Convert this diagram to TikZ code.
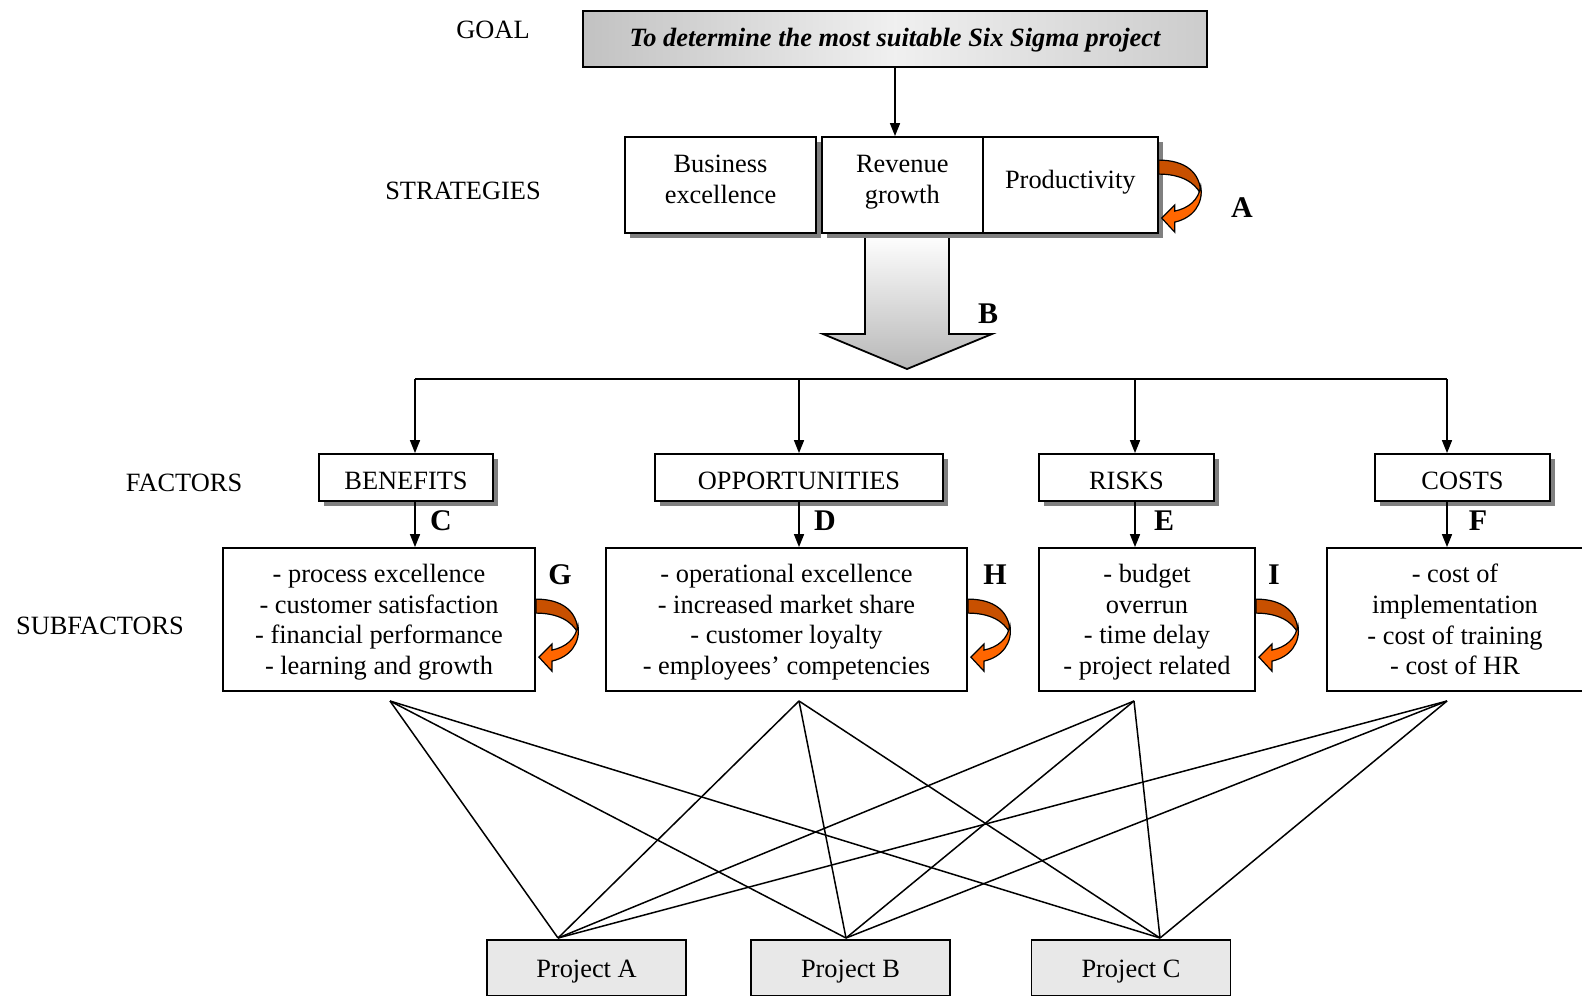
\documentclass[tikz,border=0pt]{standalone}
\usepackage{fontspec}
\setmainfont{Liberation Serif}
\usetikzlibrary{arrows.meta,positioning,shadows,calc}

\definecolor{curldark}{RGB}{200,80,0}
\definecolor{curlbright}{RGB}{255,102,0}

% orange twisted arrow, #1 = top end at the box edge
\newcommand{\curl}[1]{%
  \begin{scope}[shift={#1},line width=0.6pt]
    \filldraw[fill=curldark] (0,0) .. controls (26,0) and (42,12) .. (42,34)
      .. controls (36,22) and (22,14) .. (0,14) -- cycle;
    \filldraw[fill=curlbright] (42,26) .. controls (45,44) and (34,58) .. (16,62)
      -- (16,72) -- (3,58) -- (16,45) -- (16,51)
      .. controls (30,48) and (40,40) .. (42,26) -- cycle;
  \end{scope}}

\begin{document}
\begin{tikzpicture}[x=0.5pt,y=-0.5pt,>={Triangle[length=6.5pt,width=5pt]},line width=0.75pt,
    level/.style={font=\fontsize{13.2}{15.3}\selectfont},
    tag/.style={font=\fontsize{15}{18}\selectfont\bfseries},
    goal node/.style={draw,line width=0.9pt,left color=black!24,right color=black!20,middle color=black!6,
      minimum width=312pt,minimum height=28pt,text depth=1.5pt,
      font=\fontsize{13.2}{15.3}\selectfont\bfseries\itshape},
    strategy node/.style={draw,fill=white,line width=0.9pt,minimum height=48pt,align=center,
      text depth=5.5pt,font=\fontsize{13.2}{15.3}\selectfont,
      general shadow={fill=black!50,shadow xshift=2.5pt,shadow yshift=-2.5pt}},
    factor node/.style={draw,fill=white,line width=0.9pt,minimum height=23.5pt,
      text height=11.8pt,text depth=0pt,font=\fontsize{13.2}{15.3}\selectfont,
      general shadow={fill=black!50,shadow xshift=2.5pt,shadow yshift=-2.5pt}},
    sub node/.style={draw,fill=white,line width=0.9pt,minimum height=71.5pt,align=center,
      text depth=0pt,font=\fontsize{13.2}{15.3}\selectfont},
    project node/.style={draw,fill=black!9,line width=0.9pt,minimum width=99.5pt,minimum height=28pt,
      text height=12pt,font=\fontsize{13.2}{15.3}\selectfont}]

  \useasboundingbox (0,0) rectangle (1582,995);

  % goal
  \node[level] (goallbl) at (493,30) {GOAL};
  \node[goal node] (goal) at (895,39) {To determine the most suitable Six Sigma project};

  % big arrow B
  \shade[top color=white,bottom color=black!28] (865,234) -- (865,334) -- (823,334) -- (907,369)
    -- (992,334) -- (949,334) -- (949,234) -- cycle;
  \draw[line width=0.9pt] (865,234) -- (865,334) -- (823,334) -- (907,369) -- (992,334)
    -- (949,334) -- (949,234);
  \node[tag] (tagb) at (988,314) {B};

  % strategies
  \node[level] (stratlbl) at (463,191) {STRATEGIES};
  \node[strategy node,minimum width=95.5pt] (business) at (720.5,185) {Business\\excellence};
  \node[strategy node,minimum width=80.5pt,right=2pt of business] (revenue) {Revenue\\growth};
  \node[strategy node,minimum width=87.5pt,right=-0.9pt of revenue] (productivity) {Productivity};
  \draw[->] (goal.south) -- (goal.south |- revenue.north);
  \curl{($(productivity.north east)+(0,24)$)}
  \node[tag] (taga) at (1242,208) {A};

  % factors
  \node[level] (faclbl) at (184,483) {FACTORS};
  \node[factor node,minimum width=87pt] (benefits) at (406,477.5) {BENEFITS};
  \node[factor node,minimum width=144pt] (opportunities) at (799,477.5) {OPPORTUNITIES};
  \node[factor node,minimum width=87.5pt] (risks) at (1126.5,477.5) {RISKS};
  \node[factor node,minimum width=87.5pt] (costs) at (1462.5,477.5) {COSTS};

  \coordinate (d1) at (415,379);
  \coordinate (d2) at (799,379);
  \coordinate (d3) at (1135,379);
  \coordinate (d4) at (1447,379);
  \draw (d1) -- (d4);
  \foreach \d/\f in {d1/benefits,d2/opportunities,d3/risks,d4/costs}
    \draw[->] (\d) -- (\d |- \f.north);

  % subfactors
  \node[level] (sublbl) at (100,626) {SUBFACTORS};
  \node[sub node,minimum width=156pt] (subben) at (379,619.5)
    {- process excellence\\- customer satisfaction\\- financial performance\\- learning and growth};
  \node[sub node,minimum width=180.5pt] (subopp) at (786.5,619.5)
    {- operational excellence\\- increased market share\\- customer loyalty\\- employees' competencies};
  \node[sub node,minimum width=108pt] (subrisk) at (1147,619.5)
    {- budget\\overrun\\- time delay\\- project related};
  \node[sub node,minimum width=128pt] (subcost) at (1455,619.5)
    {- cost of\\implementation\\- cost of training\\- cost of HR};

  \foreach \d/\f/\s in {d1/benefits/subben,d2/opportunities/subopp,d3/risks/subrisk,d4/costs/subcost}
    \draw[->] (\d |- \f.south) -- (\d |- \s.north);

  \node[tag] (tagc) at (441,521) {C};
  \node[tag] (tagd) at (825,521) {D};
  \node[tag] (tage) at (1164,521) {E};
  \node[tag] (tagf) at (1478,521) {F};

  \curl{($(subben.north east)+(0,52)$)}
  \curl{($(subopp.north east)+(0,52)$)}
  \curl{($(subrisk.north east)+(0,52)$)}
  \node[tag] (tagg) at (560,575) {G};
  \node[tag] (tagh) at (995,575) {H};
  \node[tag] (tagi) at (1274,575) {I};

  % projects
  \node[project node] (proja) at (586.5,968) {Project A};
  \node[project node] (projb) at (850.5,968) {Project B};
  \node[project node] (projc) at (1131,968) {Project C};

  \coordinate (s1) at (390,701);
  \coordinate (s2) at (799,701);
  \coordinate (s3) at (1134,701);
  \coordinate (s4) at (1447,701);
  \coordinate (pa) at (558,938);
  \coordinate (pb) at (846,938);
  \coordinate (pc) at (1160,938);
  \foreach \s in {s1,s2,s3,s4}
    \foreach \p in {pa,pb,pc}
      \draw (\s) -- (\p);
\end{tikzpicture}
\end{document}
